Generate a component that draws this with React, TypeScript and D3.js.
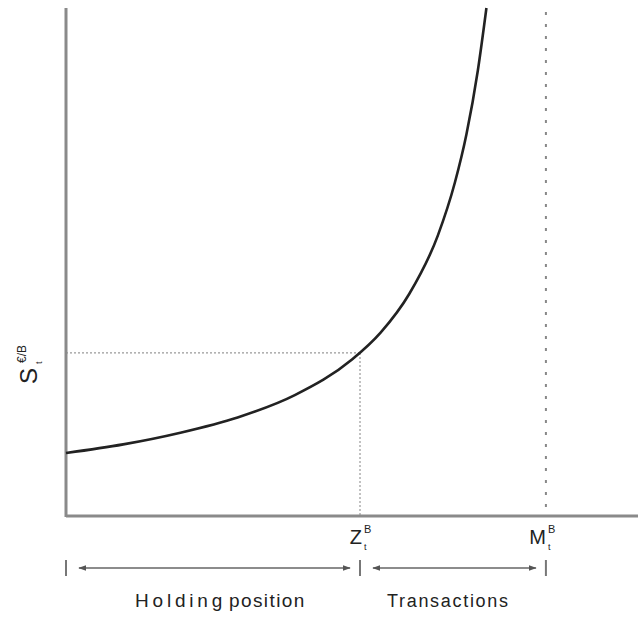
import React from "react";
import * as d3 from "d3";

// Curve points (x in axis units 0..10, y in axis units 0..10)
const curveX = [0, 1, 2, 3, 4, 5, 5.5, 6, 6.5, 6.8, 7, 7.2, 7.35];
const curveY = [1.24, 1.41, 1.64, 1.94, 2.38, 3.08, 3.61, 4.37, 5.52, 6.57, 7.51, 8.77, 10];
const zValue = 5.14;
const zLevel = 3.21;
const mValue = 8.39;
const labels = { z: "Z", m: "M", sup: "B", sub: "t", y: "S", ySup: "€/B" };
const spans = ["Holding", "position", "Transactions"];

const W = 638, H = 617;
const left = 66, right = 638, top = 8, bottom = 516;

export default function App() {
  const x = d3.scaleLinear().domain([0, 10]).range([left, right]);
  const y = d3.scaleLinear().domain([0, 10]).range([bottom, top]);
  const pts: [number, number][] = curveX.map((v, i) => [v, curveY[i]]);
  const line = d3.line<[number, number]>().x(d => x(d[0])).y(d => y(d[1])).curve(d3.curveMonotoneX);
  const zx = x(zValue), mx = x(mValue);
  const ay = 568;
  return (
    <svg width={W} height={H} style={{ position: "absolute", left: 0, top: 0 }} fontFamily="Liberation Sans, Arial, sans-serif">
      <defs>
        <marker id="ah" viewBox="0 0 10 10" refX="9" refY="5" markerWidth="8" markerHeight="8" orient="auto-start-reverse" markerUnits="userSpaceOnUse">
          <path d="M0,1.5 L10,5 L0,8.5 Z" fill="#555" />
        </marker>
      </defs>
      <rect width={W} height={H} fill="#fff" />
      {/* dotted guides */}
      <line x1={left} x2={zx} y1={y(zLevel)} y2={y(zLevel)} stroke="#999" strokeWidth={1.2} strokeDasharray="2,2" />
      <line x1={zx} x2={zx} y1={y(zLevel)} y2={bottom} stroke="#999" strokeWidth={1.2} strokeDasharray="2,2" />
      <line x1={mx} x2={mx} y1={top + 4} y2={bottom} stroke="#888" strokeWidth={2} strokeDasharray="3,9" />
      {/* axes */}
      <line x1={left} x2={left} y1={top} y2={bottom + 1} stroke="#8a8a8a" strokeWidth={3} />
      <line x1={left} x2={right} y1={bottom} y2={bottom} stroke="#8a8a8a" strokeWidth={3} />
      {/* curve */}
      <path d={line(pts) || ""} fill="none" stroke="#222" strokeWidth={2.6} />
      {/* x labels */}
      {[{ px: zx, t: labels.z, dx: 2 }, { px: mx, t: labels.m, dx: 0 }].map((l, i) => (
        <g key={i} fill="#222">
          <text x={l.px + l.dx} y={544} fontSize={20} textAnchor="end">{l.t}</text>
          <text x={l.px + l.dx + 2} y={533} fontSize={11}>{labels.sup}</text>
          <text x={l.px + l.dx + 2} y={550} fontSize={9}>{labels.sub}</text>
        </g>
      ))}
      {/* y label */}
      <g transform="translate(37,384) rotate(-90)" fill="#222">
        <text x={0} y={0} fontSize={24}>{labels.y}</text>
        <text x={21} y={-11} fontSize={12}>{labels.ySup}</text>
        <text x={20} y={5} fontSize={9}>{labels.sub}</text>
      </g>
      {/* span ticks and arrows */}
      {[left, zx, mx].map((px, i) => (
        <line key={i} x1={px} x2={px} y1={560} y2={576} stroke="#777" strokeWidth={2} />
      ))}
      <line x1={left + 13} x2={zx - 10} y1={ay} y2={ay} stroke="#666" strokeWidth={1.5} markerStart="url(#ah)" markerEnd="url(#ah)" />
      <line x1={zx + 13} x2={mx - 10} y1={ay} y2={ay} stroke="#666" strokeWidth={1.5} markerStart="url(#ah)" markerEnd="url(#ah)" />
      <text x={135} y={607} fontSize={19} fill="#222">
        <tspan letterSpacing={3.8}>{spans[0]}</tspan>
        <tspan dx={3} letterSpacing={1.4}>{spans[1]}</tspan>
      </text>
      <text x={387} y={607} fontSize={18} fill="#222" textLength={121} lengthAdjust="spacing">{spans[2]}</text>
    </svg>
  );
}
